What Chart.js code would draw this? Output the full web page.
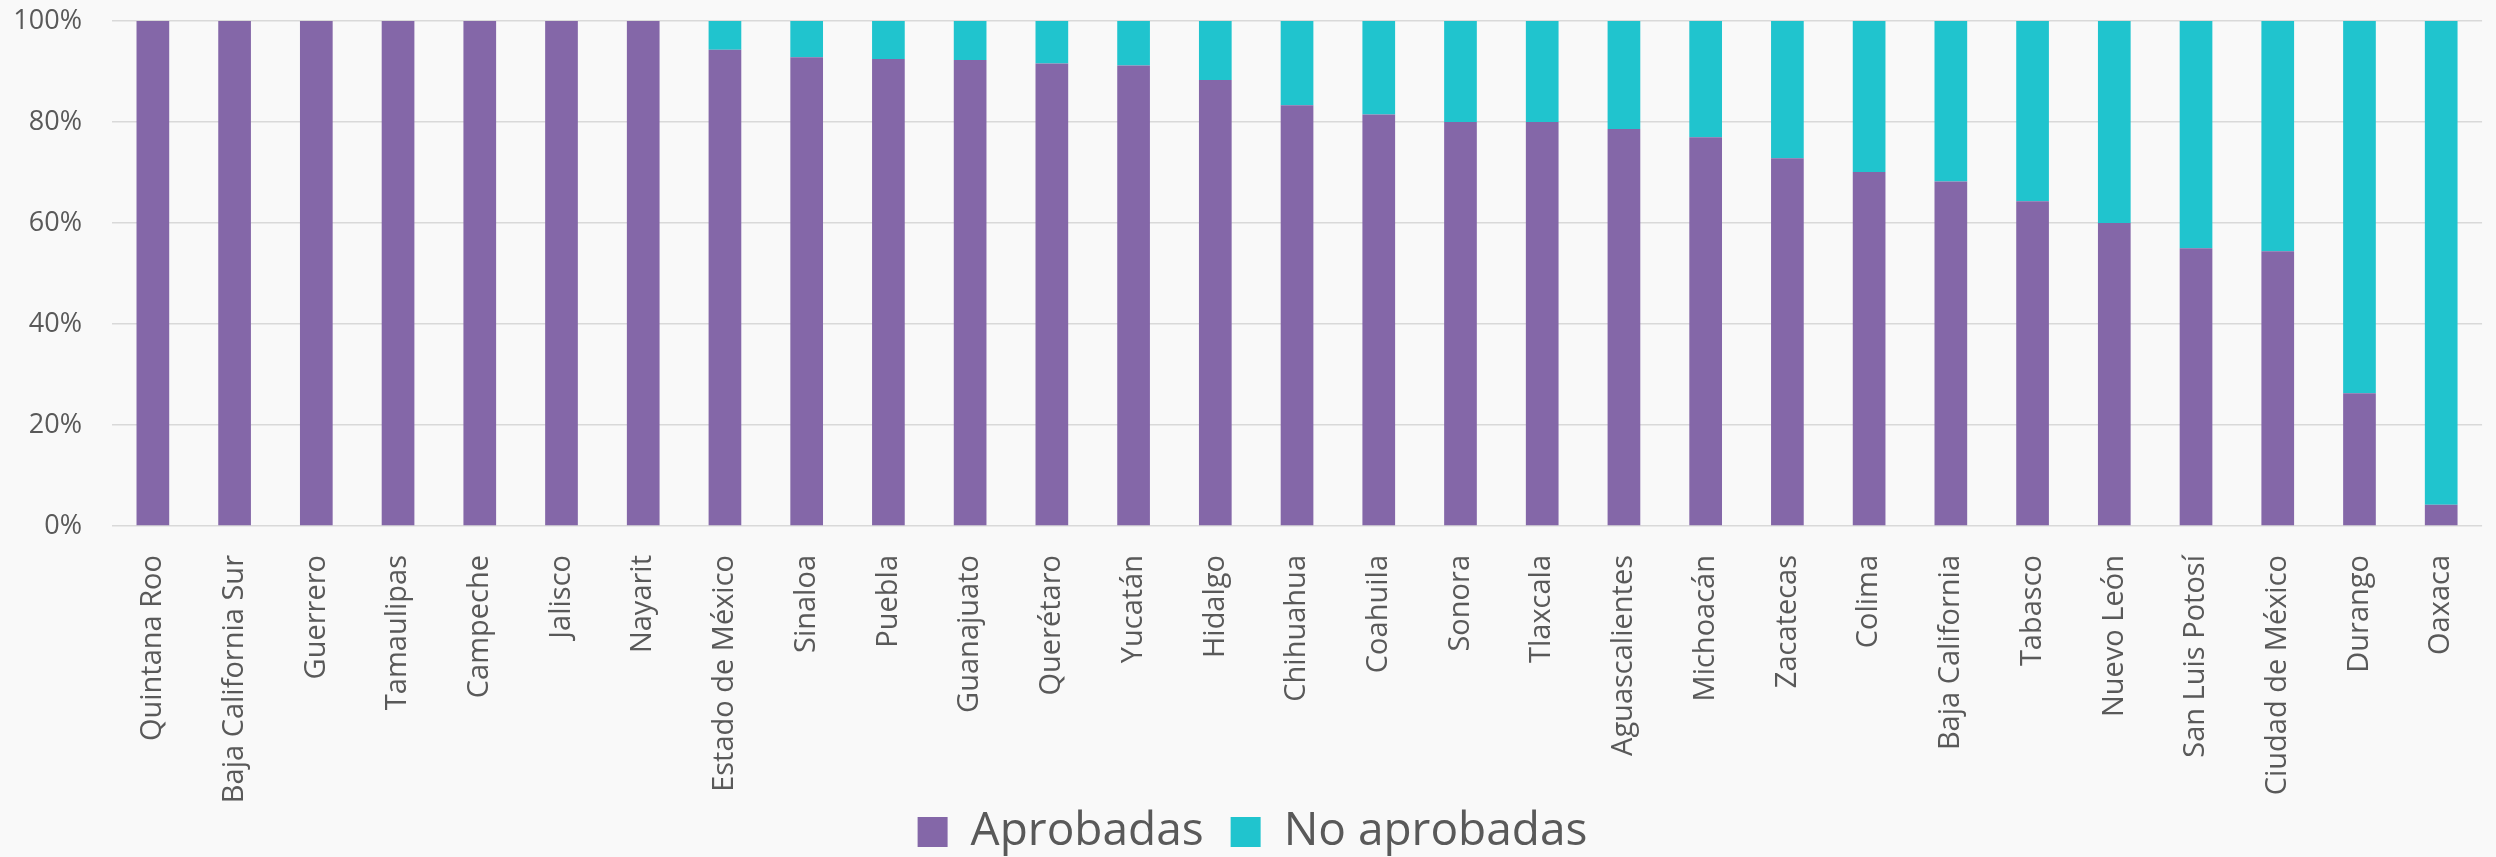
<!DOCTYPE html>
<html lang="es">
<head>
<meta charset="utf-8">
<title>Aprobadas / No aprobadas por estado</title>
<script src="https://cdn.jsdelivr.net/npm/chart.js@4/dist/chart.umd.min.js"></script>
<style>
  html, body { margin: 0; padding: 0; background: #f9f9f9; overflow: hidden; }
  #wrap { position: absolute; left: 0; top: 0; width: 2505px; height: 865px; }
</style>
</head>
<body>
<div id="wrap"><canvas id="estadosChart"></canvas></div>
<script>
const estados = [
  'Quintana Roo', 'Baja California Sur', 'Guerrero', 'Tamaulipas', 'Campeche',
  'Jalisco', 'Nayarit', 'Estado de México', 'Sinaloa', 'Puebla',
  'Guanajuato', 'Querétaro', 'Yucatán', 'Hidalgo', 'Chihuahua',
  'Coahuila', 'Sonora', 'Tlaxcala', 'Aguascalientes', 'Michoacán',
  'Zacatecas', 'Colima', 'Baja California', 'Tabasco', 'Nuevo León',
  'San Luis Potosí', 'Ciudad de México', 'Durango', 'Oaxaca'
];

// porcentaje de cada estado
const aprobadas = [
  100, 100, 100, 100, 100,
  100, 100, 94.3, 92.8, 92.5,
  92.3, 91.6, 91.2, 88.3, 83.3,
  81.5, 80.0, 80.0, 78.6, 77.0,
  72.8, 70.1, 68.2, 64.3, 60.0,
  55.0, 54.4, 26.3, 4.2
];
const noAprobadas = [
  0, 0, 0, 0, 0,
  0, 0, 5.7, 7.2, 7.5,
  7.7, 8.4, 8.8, 11.7, 16.7,
  18.5, 20.0, 20.0, 21.4, 23.0,
  27.2, 29.9, 31.8, 35.7, 40.0,
  45.0, 45.6, 73.7, 95.8
];

const yTicks = [0, 20, 40, 60, 80, 100];

const textColor = '#595959';
const gridColor = '#d9d9d9';

const ctx = document.getElementById('estadosChart').getContext('2d');
new Chart(ctx, {
  type: 'bar',
  data: {
    labels: estados,
    datasets: [
      {
        label: 'Aprobadas',
        data: aprobadas,
        backgroundColor: '#8467a8',
        barPercentage: 0.4,
        categoryPercentage: 1.0
      },
      {
        label: 'No aprobadas',
        data: noAprobadas,
        backgroundColor: '#20c4ce',
        barPercentage: 0.4,
        categoryPercentage: 1.0
      }
    ]
  },
  options: {
    responsive: true,
    maintainAspectRatio: false,
    animation: false,
    layout: { padding: { top: 21, left: 0, right: 0, bottom: 0 } },
    plugins: {
      tooltip: { enabled: false },
      legend: {
        position: 'bottom',
        labels: {
          boxWidth: 30,
          boxHeight: 30,
          padding: 4,
          color: textColor,
          font: { family: '"Open Sans", sans-serif', size: 46 },
          // a little extra room between the two entries (en space)
          generateLabels: chart =>
            Chart.defaults.plugins.legend.labels.generateLabels(chart)
              .map((item, i, all) => i < all.length - 1 ? { ...item, text: item.text + '\u2002' } : item)
        }
      }
    },
    scales: {
      x: {
        stacked: true,
        grid: { display: false, drawTicks: false },
        border: { display: false },
        ticks: {
          autoSkip: false,
          minRotation: 90,
          maxRotation: 90,
          padding: 29,
          color: textColor,
          font: { family: '"Open Sans", sans-serif', size: 29 }
        },
        afterFit: scale => { scale.height = 279; }
      },
      y: {
        stacked: true,
        min: 0,
        max: 100,
        afterBuildTicks: scale => { scale.ticks = yTicks.map(v => ({ value: v })); },
        grid: { color: gridColor, lineWidth: 1.5, drawTicks: false },
        border: { display: false },
        ticks: {
          padding: 30,
          color: textColor,
          font: { family: '"Open Sans", sans-serif', size: 27 },
          callback: v => v + '%'
        },
        afterFit: scale => {
          scale.width = 112;
          // keep the tick padding from pushing the plot down
          scale.paddingTop = 0;
          scale.paddingBottom = 0;
        }
      }
    }
  }
});
</script>
</body>
</html>
